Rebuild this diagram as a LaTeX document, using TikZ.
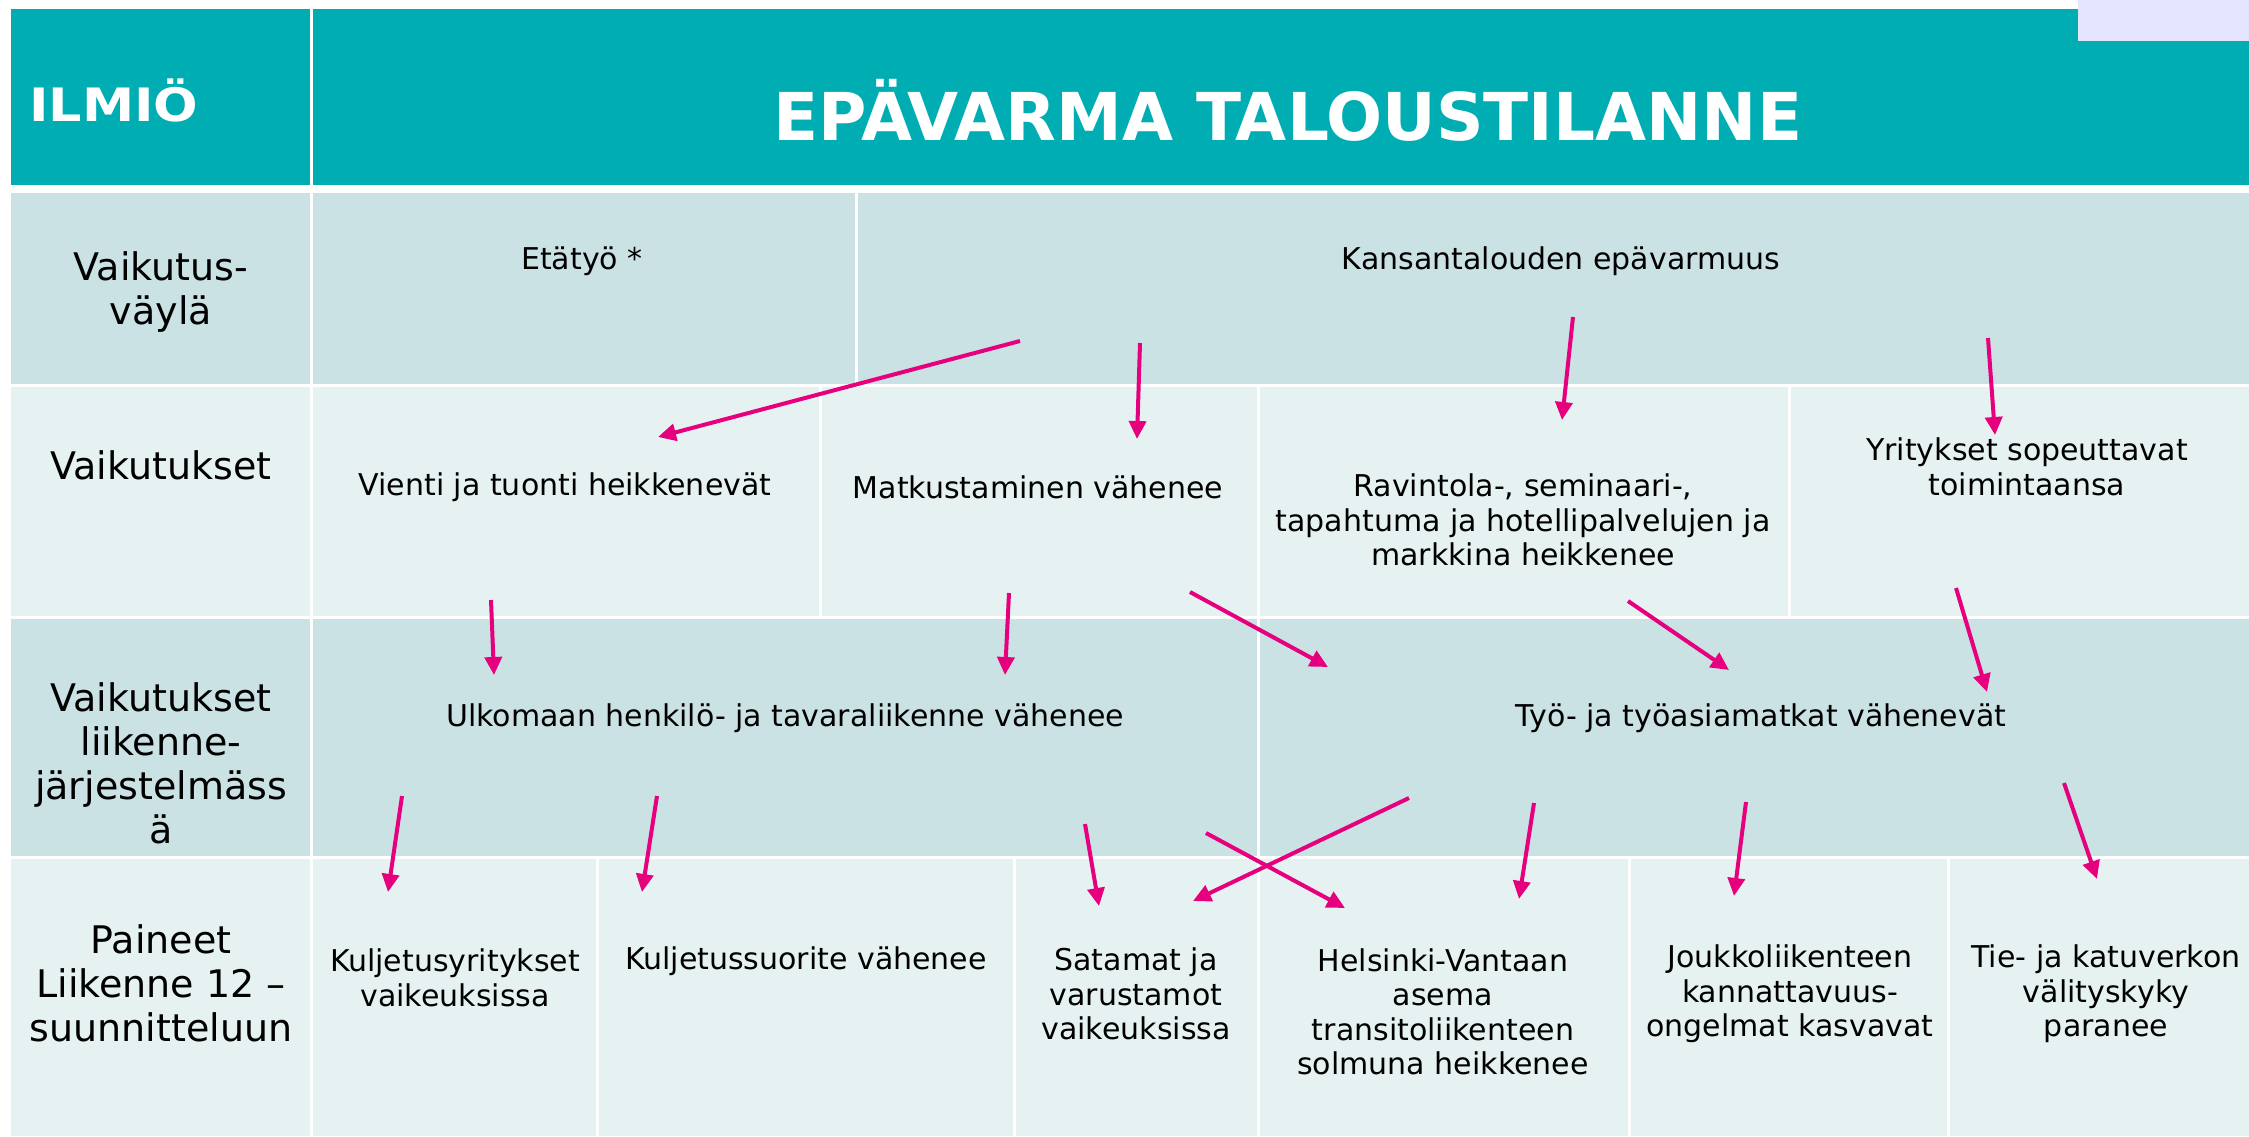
\documentclass[tikz,border=0pt]{standalone}
\usepackage{fontspec}
\setmainfont{DejaVu Sans}
\newfontfamily\ilmfont[FakeStretch=1.14]{DejaVu Sans}
\usetikzlibrary{arrows.meta}
\definecolor{hdr}{HTML}{00ADB3}
\definecolor{rowdark}{HTML}{CBE2E4}
\definecolor{rowlight}{HTML}{E6F2F2}
\definecolor{lav}{HTML}{E4E4FF}
\definecolor{mag}{HTML}{E6007E}
\begin{document}
\begin{tikzpicture}[x=1pt,y=-1pt,
  body/.style={font=\fontsize{30}{34.5}\selectfont, align=center, inner sep=0pt, text=black},
  lbl/.style={font=\fontsize{38}{44}\selectfont, align=center, inner sep=0pt, text=black},
  arr/.style={draw=mag, line width=4pt, -{Triangle[length=18pt,width=17pt]}},
  hcell/.style={fill=hdr},
  dcell/.style={fill=rowdark},
  lcell/.style={fill=rowlight}]
\fill[white] (0,0) rectangle (2249,1136);
\useasboundingbox (0,0) rectangle (2249,1136);
% header
\fill[hcell] (11,9) rectangle (310,185);
\fill[hcell] (313,9) rectangle (2249,185);
\fill[lav] (2078,0) rectangle (2249,41);
% row 2
\fill[dcell] (11,193) rectangle (310,384);
\fill[dcell] (313,193) rectangle (855,384);
\fill[dcell] (858,193) rectangle (2249,384);
% row 3
\fill[lcell] (11,387) rectangle (310,616);
\fill[lcell] (313,387) rectangle (819,616);
\fill[lcell] (822,387) rectangle (1257,616);
\fill[lcell] (1260,387) rectangle (1788,616);
\fill[lcell] (1791,387) rectangle (2249,616);
% row 4
\fill[dcell] (11,619) rectangle (310,856);
\fill[dcell] (313,619) rectangle (1257,856);
\fill[dcell] (1260,619) rectangle (2249,856);
% row 5
\fill[lcell] (11,859) rectangle (310,1136);
\fill[lcell] (313,859) rectangle (596,1136);
\fill[lcell] (599,859) rectangle (1013,1136);
\fill[lcell] (1016,859) rectangle (1257,1136);
\fill[lcell] (1260,859) rectangle (1628,1136);
\fill[lcell] (1631,859) rectangle (1947,1136);
\fill[lcell] (1950,859) rectangle (2249,1136);

% header texts
\node[anchor=west, inner sep=0pt, text=white, font=\ilmfont\fontsize{46}{50}\selectfont\bfseries] (ilmio) at (29,100) {ILMIÖ};
\node[inner sep=0pt, text=white, font=\fontsize{66}{70}\selectfont\bfseries] (title) at (1288,110) {EPÄVARMA TALOUSTILANNE};

% row labels
\node[lbl] (l2) at (161,292) {Vaikutus-\\väylä};
\node[lbl] (l3) at (161,465) {Vaikutukset};
\node[lbl] (l4) at (161,763) {Vaikutukset\\liikenne-\\järjestelmäss\\ä};
\node[lbl] (l5) at (161,983) {Paineet\\Liikenne 12 –\\suunnitteluun};

% row 2
\node[body] (eta) at (582,261) {Etätyö *};
\node[body] (kans) at (1561,261) {Kansantalouden epävarmuus};
% row 3
\node[body] (vienti) at (565,487) {Vienti ja tuonti heikkenevät};
\node[body] (matk) at (1038,487) {Matkustaminen vähenee};
\node[body] (rav) at (1523,520) {Ravintola-, seminaari-,\\tapahtuma ja hotellipalvelujen ja\\markkina heikkenee};
\node[body] (yrit) at (2027,467) {Yritykset sopeuttavat\\toimintaansa};
% row 4
\node[body] (ulko) at (785,718) {Ulkomaan henkilö- ja tavaraliikenne vähenee};
\node[body] (tyo) at (1761,718) {Työ- ja työasiamatkat vähenevät};
% row 5
\node[body] (kulj) at (455,978) {Kuljetusyritykset\\vaikeuksissa};
\node[body] (kuljs) at (806,961) {Kuljetussuorite vähenee};
\node[body] (sat) at (1136,994) {Satamat ja\\varustamot\\vaikeuksissa};
\node[body] (hel) at (1443,1012) {Helsinki-Vantaan\\asema\\transitoliikenteen\\solmuna heikkenee};
\node[body] (jouk) at (1790,994) {Joukkoliikenteen\\kannattavuus-\\ongelmat kasvavat};
\node[body] (tie) at (2106,994) {Tie- ja katuverkon\\välityskyky\\paranee};

% arrow end points
\coordinate (a1s) at (1020,341);  \coordinate (a1e) at (658,437);
\coordinate (a2s) at (1140,343);  \coordinate (a2e) at (1137,439);
\coordinate (a3s) at (1573,317);  \coordinate (a3e) at (1562,420);
\coordinate (a4s) at (1988,338);  \coordinate (a4e) at (1995,435);
\coordinate (a5s) at (491,600);   \coordinate (a5e) at (494,675);
\coordinate (a6s) at (1009,593);  \coordinate (a6e) at (1005,675);
\coordinate (a7s) at (1190,592);  \coordinate (a7e) at (1328,667);
\coordinate (a8s) at (1628,601);  \coordinate (a8e) at (1729,670);
\coordinate (a9s) at (1956,588);  \coordinate (a9e) at (1987,692);
\coordinate (a10s) at (402,796);  \coordinate (a10e) at (388,892);
\coordinate (a11s) at (657,796);  \coordinate (a11e) at (642,892);
\coordinate (a12s) at (1085,824); \coordinate (a12e) at (1099,906);
\coordinate (a13s) at (1206,833); \coordinate (a13e) at (1345,908);
\coordinate (a14s) at (1409,798); \coordinate (a14e) at (1193,901);
\coordinate (a15s) at (1534,803); \coordinate (a15e) at (1519,899);
\coordinate (a16s) at (1746,802); \coordinate (a16e) at (1734,896);
\coordinate (a17s) at (2064,783); \coordinate (a17e) at (2097,879);

\foreach \i in {1,...,17} {\draw[arr] (a\i s) -- (a\i e);}
\end{tikzpicture}
\end{document}
